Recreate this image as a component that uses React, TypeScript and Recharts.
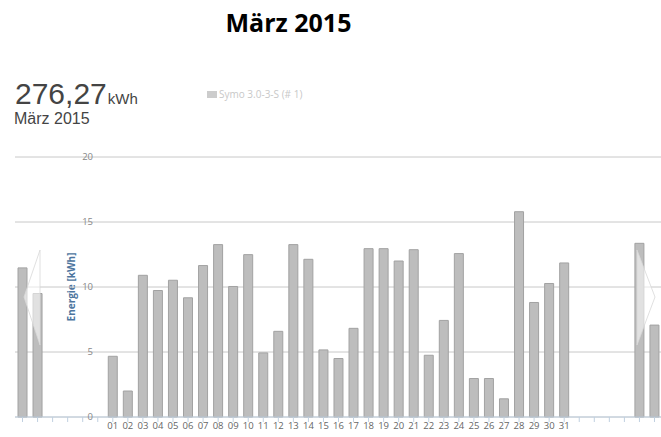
import { BarChart, Bar, XAxis, YAxis, CartesianGrid } from "recharts";

// Daily yield, March 2015 (kWh)
const DAYS = [
  "01", "02", "03", "04", "05", "06", "07", "08", "09", "10",
  "11", "12", "13", "14", "15", "16", "17", "18", "19", "20",
  "21", "22", "23", "24", "25", "26", "27", "28", "29", "30", "31",
];
const DAY_VALUES = [
  4.67, 2.0, 10.9, 9.73, 10.52, 9.17, 11.65, 13.26, 10.04, 12.49,
  4.93, 6.59, 13.26, 12.13, 5.16, 4.5, 6.82, 12.95, 12.95, 12.0,
  12.87, 4.75, 7.43, 12.57, 2.96, 2.96, 1.4, 15.79, 8.81, 10.27, 11.85,
];
// bars of the neighbouring months peeking in at the edges
const PREV_VALUES = [11.47, 9.5];
const NEXT_VALUES = [13.36, 7.07];
const GAP_LEFT = 4;
const GAP_RIGHT = 4;
const Y_TICKS = [0, 5, 10, 15, 20];

const TOTAL = "276,27";
const MONTH = "März 2015";
const SERIES_NAME = "Symo 3.0-3-S (# 1)";

type Row = { key: string; label: string; v: number | null };

const rows: Row[] = [
  ...PREV_VALUES.map((v, i) => ({ key: `p${i}`, label: "", v })),
  ...Array.from({ length: GAP_LEFT }, (_, i) => ({ key: `gl${i}`, label: "", v: null })),
  ...DAYS.map((d, i) => ({ key: `d${d}`, label: d, v: DAY_VALUES[i] })),
  ...Array.from({ length: GAP_RIGHT }, (_, i) => ({ key: `gr${i}`, label: "", v: null })),
  ...NEXT_VALUES.map((v, i) => ({ key: `n${i}`, label: "", v })),
];
const labelByKey: Record<string, string> = Object.fromEntries(rows.map((r) => [r.key, r.label]));

const FONT = "'Open Sans', sans-serif";

// y labels sit inside the plot, right-aligned at the first empty slot
function renderYTick(props: any) {
  const { y, payload } = props;
  return (
    <text key={`yt-${payload.value}`} x={93} y={y} dy="0.35em" textAnchor="end" fill="#888" fontSize={9.5} fontFamily={FONT}>
      {payload.value}
    </text>
  );
}

export default function App() {
  return (
    <div style={{ position: "absolute", left: 0, top: 0, width: 661, height: 437, overflow: "hidden", background: "#fff" }}>
      <svg width={661} height={140} style={{ position: "absolute", left: 0, top: 0 }}>
        <text x={288.5} y={31.5} textAnchor="middle" fontFamily={FONT} fontWeight={700} fontSize={25} fill="#000">
          {MONTH}
        </text>
        <text x={15} y={104} fontFamily="'Liberation Sans', Arial, sans-serif" fill="#444">
          <tspan fontSize={30}>{TOTAL}</tspan>
          <tspan fontSize={15} dx={1}>kWh</tspan>
        </text>
        <text x={14} y={124} fontFamily="'Liberation Sans', Arial, sans-serif" fontSize={16} fill="#444">
          {MONTH}
        </text>
        <rect x={207} y={91} width={10} height={7} fill="#cccccc" />
        <text x={219} y={98} fontFamily={FONT} fontSize={10} fill="#c8c8c8">
          {SERIES_NAME}
        </text>
      </svg>

      <div
        style={{
          position: "absolute",
          left: 71,
          top: 287,
          transform: "translate(-50%, -50%) rotate(-90deg)",
          fontFamily: FONT,
          fontSize: 10,
          fontWeight: 700,
          color: "#4d759e",
          whiteSpace: "nowrap",
        }}
      >
        Energie [kWh]
      </div>

      <div style={{ position: "absolute", left: 0, top: 140 }}>
        <BarChart width={662} height={297} data={rows} margin={{ top: 17, right: 0, left: 14, bottom: 0 }}>
          <CartesianGrid vertical={false} stroke="#c8c8c8" />
          <XAxis
            dataKey="key"
            interval={0}
            height={20}
            tickFormatter={(k) => labelByKey[k] ?? ""}
            stroke="#c0d0e0"
            tickSize={5}
            tickMargin={0}
            tick={{ fill: "#666", fontSize: 9.5, fontFamily: FONT }}
          />
          <YAxis
            width={1}
            domain={[0, 20]}
            ticks={Y_TICKS}
            interval={0}
            axisLine={false}
            tickLine={false}
            tick={renderYTick}
          />
          <Bar dataKey="v" fill="#bdbdbd" stroke="#a2a2a2" strokeWidth={1} barSize={9} isAnimationActive={false} />
        </BarChart>
      </div>

      <svg width={661} height={437} style={{ position: "absolute", left: 0, top: 0, pointerEvents: "none" }}>
        <polygon points="40,250 24,297 40,345" fill="#ffffff" fillOpacity={0.55} stroke="#d8d8d8" strokeWidth={0.8} />
        <polygon points="637,250 655,297 637,345" fill="#ffffff" fillOpacity={0.55} stroke="#d8d8d8" strokeWidth={0.8} />
      </svg>
    </div>
  );
}
